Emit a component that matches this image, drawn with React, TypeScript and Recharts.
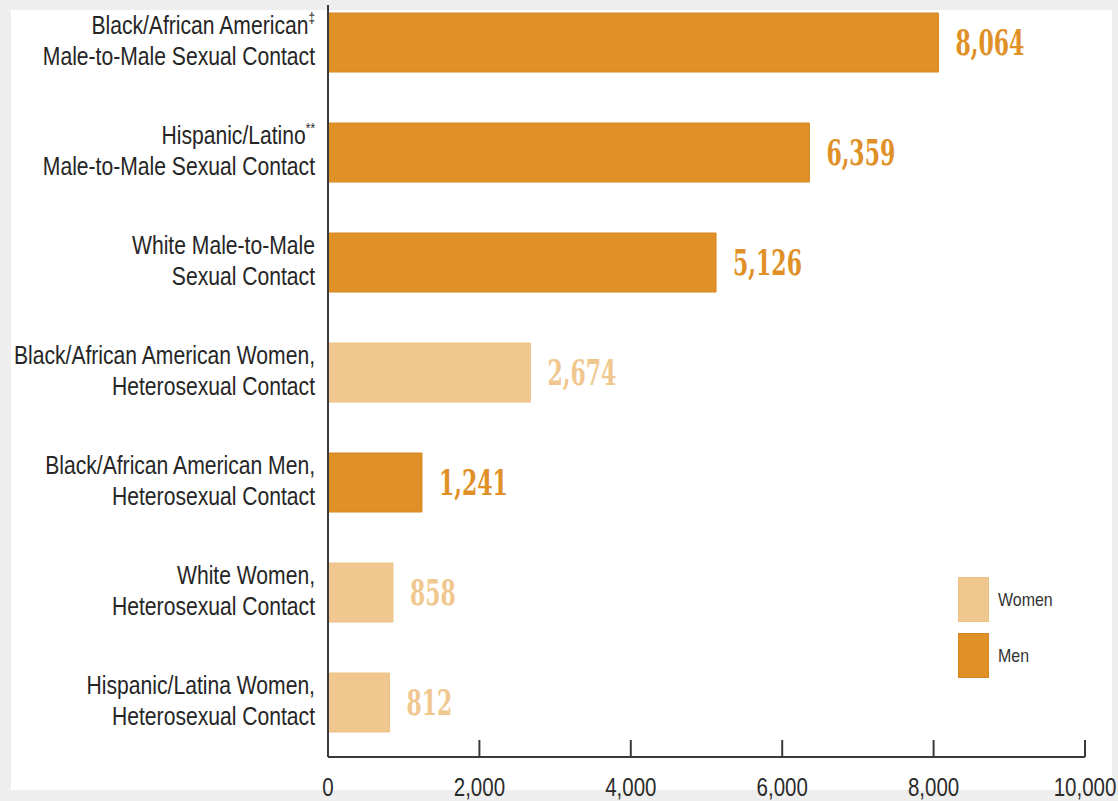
import React from 'react';
import { BarChart, Bar, XAxis, YAxis, Cell, LabelList, Legend } from 'recharts';

const categories = [
    'Black/African American‡\nMale-to-Male Sexual Contact',
    'Hispanic/Latino**\nMale-to-Male Sexual Contact',
    'White Male-to-Male\nSexual Contact',
    'Black/African American Women,\nHeterosexual Contact',
    'Black/African American Men,\nHeterosexual Contact',
    'White Women,\nHeterosexual Contact',
    'Hispanic/Latina Women,\nHeterosexual Contact',
];
const diagnoses = [8064, 6359, 5126, 2674, 1241, 858, 812];
const groups = ['Men', 'Men', 'Men', 'Women', 'Men', 'Women', 'Women'];
const xTicks = [0, 2000, 4000, 6000, 8000, 10000];
const legendItems = ['Women', 'Men'];

const COLORS: Record<string, { fill: string; stroke: string; text: string }> = {
    Men: { fill: '#DF9128', stroke: '#D6861C', text: '#DF9128' },
    Women: { fill: '#F0C88F', stroke: '#EDC184', text: '#F0C88F' },
};

// no narrow sans installed, so squeeze Liberation Sans horizontally
const SANS = "'Liberation Sans', Arial, sans-serif";
const SQUEEZE = 0.845;
const SLAB = "'DejaVu Serif Condensed', 'DejaVu Serif', serif";
const AXIS = '#3a3a3a';

const data = categories.map((name, i) => ({ name, value: diagnoses[i], group: groups[i] }));

function CategoryTick({ x, y, payload }: any) {
    const lines = String(payload.value).split('\n');
    const lh = 31;
    const top = y - 1 - ((lines.length - 1) * lh) / 2;
    return (
        <g>
            {lines.map((line, i) => {
                const m = line.match(/^(.*?)([‡*]+)$/);
                return (
                    <text
                        key={i}
                        transform={`translate(${x - 13},${top + i * lh}) scale(${SQUEEZE},1)`}
                        textAnchor="end"
                        dominantBaseline="central"
                        fontFamily={SANS}
                        fontSize={25}
                        fill="#262626"
                    >
                        {m ? m[1] : line}
                        {m && (
                            <tspan fontSize={14} dy={-8}>
                                {m[2]}
                            </tspan>
                        )}
                    </text>
                );
            })}
        </g>
    );
}

function ValueTick({ x, y, payload }: any) {
    return (
        <g>
            <line x1={x} y1={y - 17} x2={x} y2={y} stroke={AXIS} strokeWidth={2} />
            <text
                transform={`translate(${x},${y + 30}) scale(0.82,1)`}
                textAnchor="middle"
                dominantBaseline="central"
                fontFamily={SANS}
                fontSize={25}
                fill="#2b2b2b"
            >
                {Number(payload.value).toLocaleString('en-US')}
            </text>
        </g>
    );
}

function ValueLabel({ x, y, width, height, value, index }: any) {
    const c = COLORS[groups[index]];
    const tx = x + width + 17;
    const ty = y + height / 2;
    return (
        <text
            transform={`translate(${tx},${ty}) scale(0.68,1)`}
            fontFamily={SLAB}
            fontWeight="bold"
            fontSize={36}
            fill={c.text}
            dominantBaseline="central"
        >
            {Number(value).toLocaleString('en-US')}
        </text>
    );
}

function LegendBox() {
    return (
        <div style={{ display: 'flex', flexDirection: 'column', gap: 11 }}>
            {legendItems.map((g) => (
                <div key={g} style={{ display: 'flex', alignItems: 'center', gap: 9 }}>
                    <span
                        style={{
                            width: 31,
                            height: 45,
                            background: COLORS[g].fill,
                            boxSizing: 'border-box',
                            border: `1px solid ${COLORS[g].stroke}`,
                        }}
                    />
                    <span
                        style={{
                            fontFamily: SANS,
                            fontSize: 19,
                            color: '#333',
                            display: 'inline-block',
                            transform: 'scaleX(0.84)',
                            transformOrigin: 'left center',
                        }}
                    >
                        {g}
                    </span>
                </div>
            ))}
        </div>
    );
}

export default function App() {
    return (
        <div style={{ position: 'absolute', left: 0, top: 0, width: 1118, height: 801, background: '#eeeeee' }}>
            {/* white panel */}
            <div style={{ position: 'absolute', left: 11, top: 10, width: 1101, height: 780, background: '#fff' }} />
            <div style={{ position: 'absolute', left: 0, top: 0 }}>
                <BarChart
                    layout="vertical"
                    width={1118}
                    height={801}
                    data={data}
                    margin={{ top: 5, right: 33, bottom: 0, left: 0 }}
                >
                    <XAxis
                        type="number"
                        domain={[0, 10000]}
                        ticks={xTicks}
                        interval={0}
                        height={44}
                        axisLine={{ stroke: AXIS, strokeWidth: 2 }}
                        tickLine={false}
                        tickSize={0}
                        tickMargin={0}
                        tick={<ValueTick />}
                    />
                    <YAxis
                        type="category"
                        dataKey="name"
                        width={328}
                        padding={{ top: -18, bottom: 0 }}
                        axisLine={{ stroke: AXIS, strokeWidth: 2 }}
                        tickLine={false}
                        tickSize={0}
                        tickMargin={0}
                        interval={0}
                        tick={<CategoryTick />}
                    />
                    <Legend
                        layout="horizontal"
                        verticalAlign="middle"
                        align="center"
                        content={<LegendBox />}
                        wrapperStyle={{ position: 'absolute', left: 958, top: 577, width: 120, height: 110 }}
                    />
                    <Bar dataKey="value" barSize={59} isAnimationActive={false}>
                        {data.map((d, i) => (
                            <Cell key={i} fill={COLORS[d.group].fill} stroke={COLORS[d.group].stroke} strokeWidth={1} />
                        ))}
                        <LabelList dataKey="value" content={<ValueLabel />} />
                    </Bar>
                </BarChart>
            </div>
        </div>
    );
}
